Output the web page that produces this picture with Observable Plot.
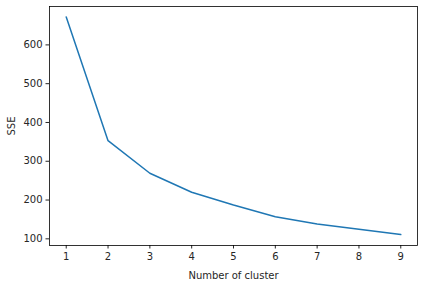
<!DOCTYPE html>
<html>
<head>
<meta charset="utf-8">
<script src="https://cdn.jsdelivr.net/npm/d3@7"></script>
<script src="https://cdn.jsdelivr.net/npm/@observablehq/plot@0.6"></script>
<style>
  html, body { margin: 0; padding: 0; background: #fff; }
</style>
</head>
<body>
<div id="chart"></div>
<script>
const clusters = [1, 2, 3, 4, 5, 6, 7, 8, 9];
const sse = [672, 353, 269, 220, 187, 157, 138, 125, 111];
const xTicks = [1, 2, 3, 4, 5, 6, 7, 8, 9];
const yTicks = [100, 200, 300, 400, 500, 600];

const data = clusters.map((k, i) => ({k, sse: sse[i]}));

const chart = Plot.plot({
  width: 434,
  height: 292,
  marginLeft: 49,
  marginRight: 17,
  marginTop: 6,
  marginBottom: 47,
  style: {fontFamily: "DejaVu Sans", fontSize: "10px", color: "#262626", background: "#fff"},
  x: {domain: [0.6, 9.4], ticks: xTicks, tickSize: 3.5, tickPadding: 3.5, label: "Number of cluster", labelAnchor: "center", labelArrow: "none", labelOffset: 33},
  y: {domain: [82.8, 699], ticks: yTicks, tickSize: 3.5, tickPadding: 3.5, label: "SSE", labelAnchor: "center", labelArrow: "none", labelOffset: 42},
  marks: [
    Plot.line(data, {x: "k", y: "sse", stroke: "#1f77b4", strokeWidth: 1.5}),
    Plot.frame({stroke: "#000", strokeWidth: 0.8, strokeOpacity: 1})
  ]
});
document.getElementById("chart").appendChild(chart);
</script>
</body>
</html>
